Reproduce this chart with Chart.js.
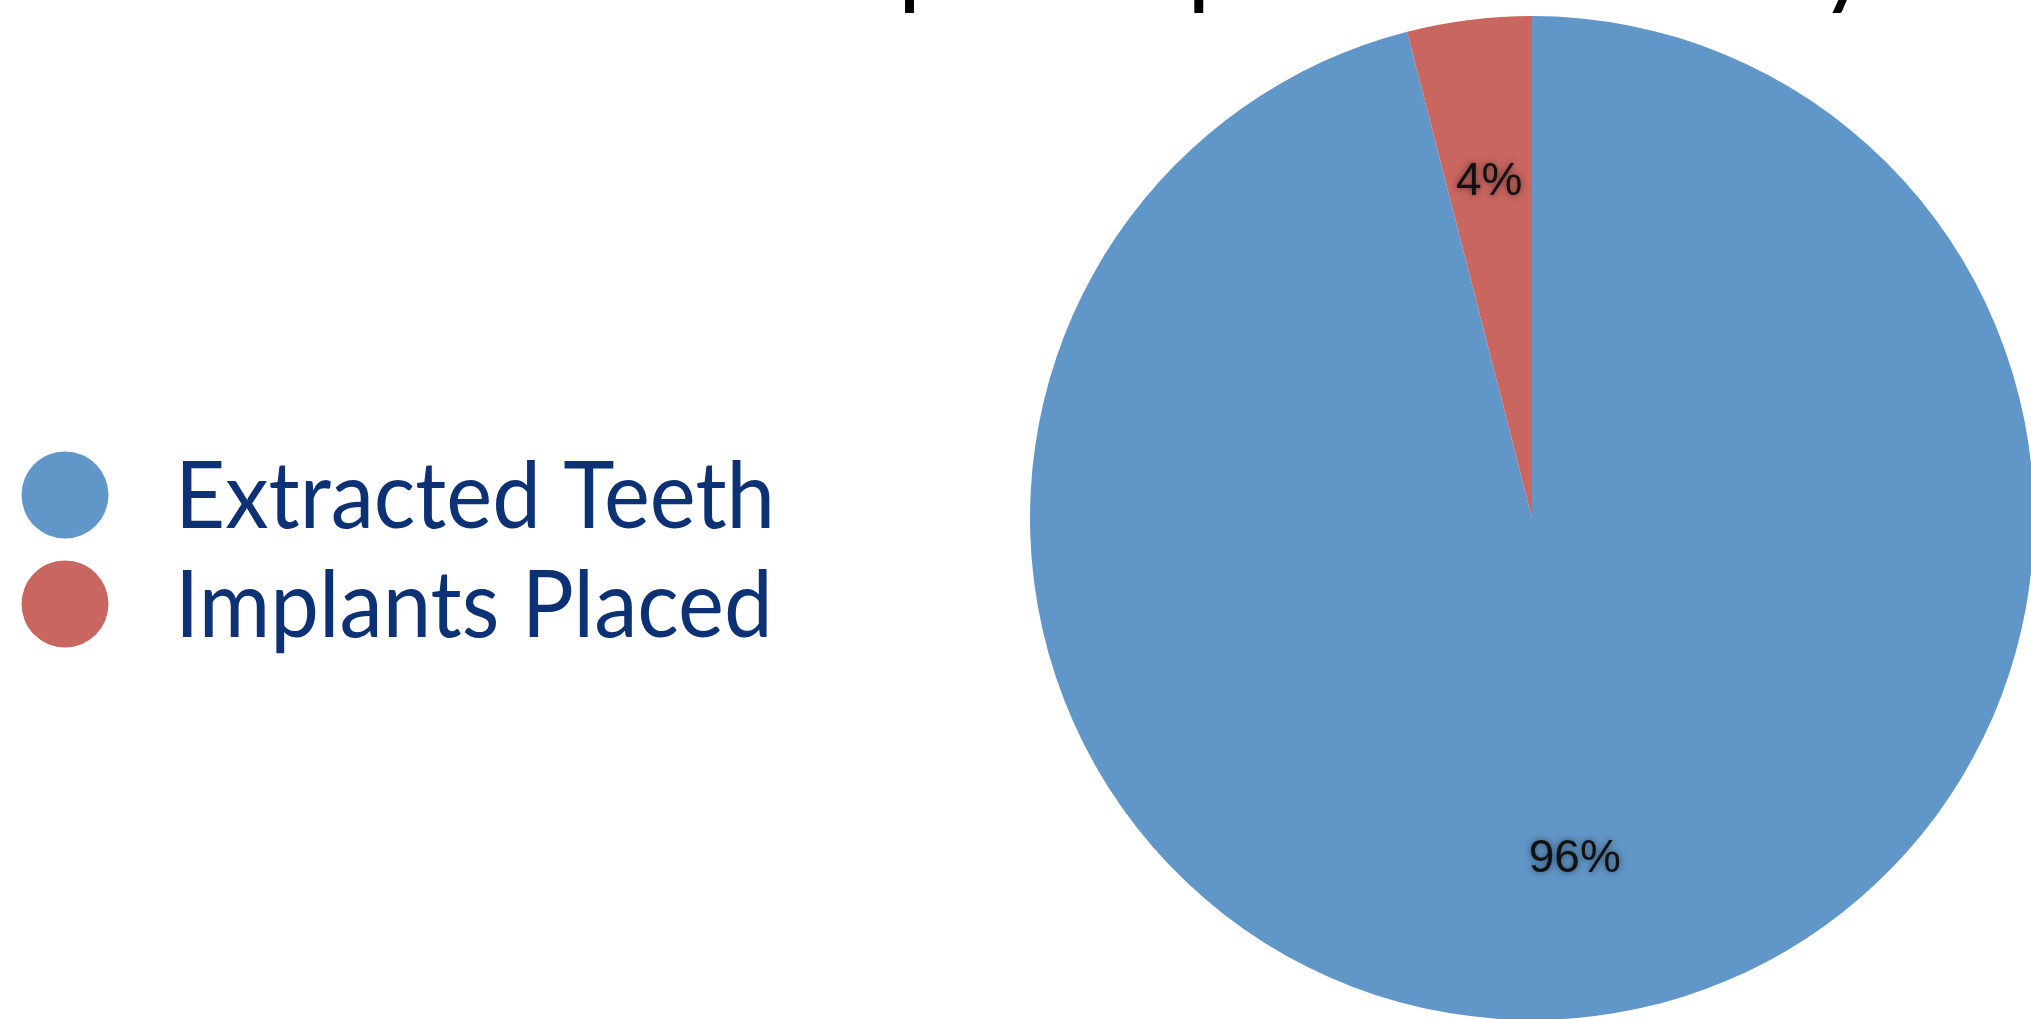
<!DOCTYPE html>
<html>
<head>
<meta charset="utf-8">
<title>Extracted Teeth vs Implants Placed</title>
<script src="https://cdn.jsdelivr.net/npm/chart.js@4"></script>
<style>
  html, body { margin: 0; padding: 0; background: #ffffff; overflow: hidden; }
  canvas { display: block; }
</style>
</head>
<body>
<canvas id="pie" width="2031" height="1019"></canvas>
<script>
// chart data
const titleText = 'Extracted Teeth vs. Implants per Patient Day';
const categories = ['Extracted Teeth', 'Implants Placed'];
const percentages = [96, 4];
const sliceColors = ['#6196c8', '#c96660'];

const legendColor = '#0c3175';
const labelFont = '"Liberation Sans", Arial, sans-serif';
const legendFont = 'Lato, "Open Sans", sans-serif';

// slide title sits mostly above the canvas, only its descenders show
const titlePlugin = {
    id: 'slideTitle',
    afterDraw(chart) {
        const ctx = chart.ctx;
        ctx.save();
        ctx.font = '100px ' + legendFont;
        ctx.fillStyle = '#000000';
        ctx.textAlign = 'left';
        ctx.textBaseline = 'alphabetic';
        // line the "p" of Implants up under the pie's left shoulder
        const lead = ctx.measureText(titleText.slice(0, titleText.indexOf('Im') + 2)).width;
        ctx.fillText(titleText, 898 - lead, -4);
        ctx.restore();
    }
};

// big circle markers + labels on the left
const sideLegend = {
    id: 'sideLegend',
    afterDraw(chart) {
        const ctx = chart.ctx;
        const labels = chart.data.labels;
        const colors = chart.data.datasets[0].backgroundColor;
        ctx.save();
        labels.forEach((label, i) => {
            const cy = 495 + i * 109;
            ctx.beginPath();
            ctx.arc(65, cy, 43.5, 0, Math.PI * 2);
            ctx.fillStyle = colors[i];
            ctx.fill();

            // narrow the humanist face a bit so it sits like Gill Sans
            ctx.save();
            ctx.translate(175, cy + 33);
            ctx.scale(0.925, 1);
            ctx.font = '94px ' + legendFont;
            ctx.fillStyle = legendColor;
            ctx.textBaseline = 'alphabetic';
            ctx.fillText(label, 0, 0);
            ctx.restore();
        });
        ctx.restore();
    }
};

// percentage text inside each slice
const sliceLabels = {
    id: 'sliceLabels',
    afterDatasetsDraw(chart) {
        const ctx = chart.ctx;
        const meta = chart.getDatasetMeta(0);
        const values = chart.data.datasets[0].data;
        ctx.save();
        ctx.font = '46px ' + labelFont;
        ctx.fillStyle = '#111111';
        ctx.textAlign = 'center';
        ctx.textBaseline = 'middle';
        ctx.shadowColor = 'rgba(0, 0, 0, 0.55)';
        ctx.shadowBlur = 7;
        meta.data.forEach((arc, i) => {
            const p = arc.getProps(['x', 'y', 'startAngle', 'endAngle', 'outerRadius'], true);
            const mid = (p.startAngle + p.endAngle) / 2;
            const r = p.outerRadius * 0.68;
            ctx.fillText(values[i] + '%', p.x + Math.cos(mid) * r, p.y + 3 + Math.sin(mid) * r);
        });
        ctx.restore();
    }
};

new Chart(document.getElementById('pie'), {
    type: 'pie',
    data: {
        labels: categories,
        datasets: [{
            data: percentages,
            backgroundColor: sliceColors,
            borderWidth: 0
        }]
    },
    options: {
        responsive: false,
        animation: false,
        radius: 502,
        layout: { padding: { left: 1033, right: 0, top: 17, bottom: 0 } },
        plugins: {
            legend: { display: false },
            tooltip: { enabled: false },
            title: { display: false }
        }
    },
    plugins: [sliceLabels, sideLegend, titlePlugin]
});
</script>
</body>
</html>
